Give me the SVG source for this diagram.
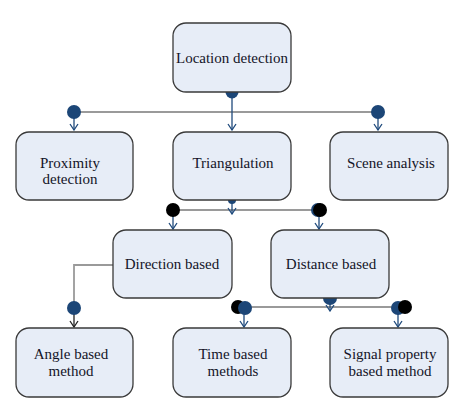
<svg xmlns="http://www.w3.org/2000/svg" width="467" height="411" viewBox="0 0 467 411">
<defs>
<style>
.box{fill:#e7edf7;stroke:#3a3a3a;stroke-width:1.3}
.t{font-family:"Liberation Serif",serif;font-size:15px;fill:#141428;text-anchor:middle}
.g{stroke:#9a9a9a;stroke-width:1.8;fill:none}
.b{stroke:#1f4a7c;stroke-width:1.3;fill:none}
.k{stroke:#222;stroke-width:1.3;fill:none}
.bd{fill:#1c4677}
.kd{fill:#000}
</style>
<marker id="ab" viewBox="0 0 10 10" refX="9" refY="5" markerWidth="10" markerHeight="10" markerUnits="userSpaceOnUse" orient="auto">
<path d="M3,1 L9,5 L3,9" fill="none" stroke="#1f4a7c" stroke-width="1.3"/>
</marker>
<marker id="ak" viewBox="0 0 10 10" refX="9" refY="5" markerWidth="10" markerHeight="10" markerUnits="userSpaceOnUse" orient="auto">
<path d="M3,1 L9,5 L3,9" fill="none" stroke="#222" stroke-width="1.3"/>
</marker>
</defs>
<rect width="467" height="411" fill="#fff"/>
<g id="connectors">
<line class="g" x1="74" y1="112" x2="378" y2="112"/>
<line class="b" x1="232" y1="92" x2="232" y2="130" marker-end="url(#ab)"/>
<line class="b" x1="74" y1="112" x2="74" y2="130" marker-end="url(#ab)"/>
<line class="b" x1="378" y1="112" x2="378" y2="130" marker-end="url(#ab)"/>
<circle class="bd" cx="232" cy="92" r="6.5"/>
<circle class="bd" cx="74" cy="112" r="7"/>
<circle class="bd" cx="378" cy="112" r="7"/>

<line class="g" x1="173" y1="210" x2="320" y2="210"/>
<line class="b" x1="232" y1="200" x2="232" y2="214" marker-end="url(#ab)"/>
<line class="b" x1="173" y1="210" x2="173" y2="229" marker-end="url(#ab)"/>
<line class="b" x1="319" y1="210" x2="319" y2="229" marker-end="url(#ab)"/>
<circle class="bd" cx="232" cy="200" r="4"/>
<circle class="kd" cx="173" cy="210" r="7"/>
<circle class="bd" cx="318" cy="210" r="7"/>
<circle class="kd" cx="320" cy="210" r="7"/>

<polyline class="g" points="113,265 74,265 74,308"/>
<line class="k" x1="74" y1="308" x2="74" y2="327" marker-end="url(#ak)"/>
<circle class="bd" cx="74" cy="308" r="7"/>

<line class="g" x1="238" y1="307" x2="405" y2="307"/>
<line class="b" x1="330" y1="298" x2="330" y2="311" marker-end="url(#ab)"/>
<line class="b" x1="244" y1="307" x2="244" y2="327" marker-end="url(#ab)"/>
<line class="b" x1="398" y1="307" x2="398" y2="327" marker-end="url(#ab)"/>
<circle class="bd" cx="330" cy="298" r="7"/>
<circle class="kd" cx="238" cy="307" r="7"/>
<circle class="bd" cx="245" cy="308" r="7"/>
<circle class="bd" cx="398" cy="308" r="7"/>
<circle class="kd" cx="405" cy="307" r="7"/>
</g>
<g id="location"><rect class="box" x="173" y="23" width="118" height="69" rx="13"/><text class="t" x="232" y="63">Location detection</text></g>
<g id="proximity"><rect class="box" x="16" y="132" width="117" height="68" rx="13"/><text class="t" x="70" y="168">Proximity</text><text class="t" x="70" y="184">detection</text></g>
<g id="triangulation"><rect class="box" x="173" y="132" width="118" height="68" rx="13"/><text class="t" x="233" y="168">Triangulation</text></g>
<g id="scene"><rect class="box" x="330" y="132" width="118" height="68" rx="13"/><text class="t" x="391" y="168">Scene analysis</text></g>
<g id="direction"><rect class="box" x="113" y="230" width="119" height="68" rx="13"/><text class="t" x="172" y="269">Direction based</text></g>
<g id="distance"><rect class="box" x="271" y="230" width="118" height="68" rx="13"/><text class="t" x="331" y="269">Distance based</text></g>
<g id="angle"><rect class="box" x="16" y="328" width="117" height="69" rx="13"/><text class="t" x="71" y="359">Angle based</text><text class="t" x="71" y="376">method</text></g>
<g id="time"><rect class="box" x="173" y="328" width="118" height="69" rx="13"/><text class="t" x="233" y="359">Time based</text><text class="t" x="233" y="376">methods</text></g>
<g id="signal"><rect class="box" x="330" y="328" width="118" height="69" rx="13"/><text class="t" x="390" y="359">Signal property</text><text class="t" x="390" y="376">based method</text></g>
</svg>
